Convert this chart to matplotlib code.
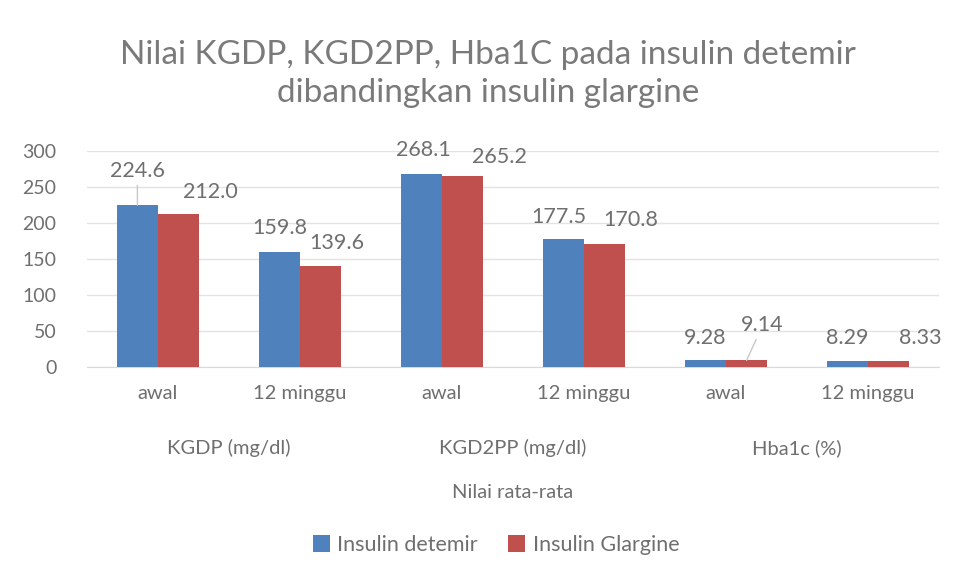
# Grouped bar chart: KGDP, KGD2PP, Hba1C - insulin detemir vs glargine
import matplotlib.pyplot as plt
import numpy as np

plt.rcParams['font.family'] = ['Lato', 'DejaVu Sans']

# Data
categories = ['awal', '12 minggu', 'awal', '12 minggu', 'awal', '12 minggu']
groups = ['KGDP (mg/dl)', 'KGD2PP (mg/dl)', 'Hba1c (%)']
detemir = [224.6, 159.8, 268.1, 177.5, 9.28, 8.29]
glargine = [212.0, 139.6, 265.2, 170.8, 9.14, 8.33]
detemir_labels = ['224.6', '159.8', '268.1', '177.5', '9.28', '8.29']
glargine_labels = ['212.0', '139.6', '265.2', '170.8', '9.14', '8.33']

blue = '#4F81BD'
red = '#C0504D'
txt = '#6f6f6f'

fig = plt.figure(figsize=(9.56, 5.79), dpi=100)
ax = fig.add_axes([87 / 956, 1 - 367 / 579, 852 / 956, 216 / 579])

x = np.arange(len(categories))
w = 0.29
b1 = ax.bar(x - w / 2, detemir, w, color=blue, label='Insulin detemir', zorder=3)
b2 = ax.bar(x + w / 2, glargine, w, color=red, label='Insulin Glargine', zorder=3)

ax.set_xlim(-0.5, 5.5)
ax.set_ylim(0, 300)
ax.set_yticks(range(0, 301, 50))
ax.yaxis.grid(True, color='#e3e3e3', lw=1, zorder=0)
for s in ['top', 'right', 'left']:
    ax.spines[s].set_visible(False)
ax.spines['bottom'].set_color('#d9d9d9')
ax.tick_params(axis='y', length=0, labelsize=14, labelcolor=txt, pad=22)
ax.tick_params(axis='x', length=0, labelsize=14.5, labelcolor=txt, pad=13)
ax.set_xticks(x)
ax.set_xticklabels(categories)

# data labels (pixel offsets from bar tops)
off1 = [(0, 34), (0, 24), (2, 24), (-5, 22), (0, 22), (0, 23)]
off2 = [(32, 22), (16, 23), (37, 19), (26, 24), (16, 35), (32, 23)]
leader1 = [True, False, False, False, False, False]
leader2 = [False, False, False, False, True, False]

for bars, labels, offs, leads in [(b1, detemir_labels, off1, leader1),
                                  (b2, glargine_labels, off2, leader2)]:
    for bar, lab, (dx, dy), lead in zip(bars, labels, offs, leads):
        xc = bar.get_x() + bar.get_width() / 2
        h = bar.get_height()
        ap = None
        if lead:
            ap = dict(arrowstyle='-', color='#c8c8c8', lw=1, shrinkA=1, shrinkB=0)
        ax.annotate(lab, xy=(xc, h), xytext=(dx, dy), textcoords='offset pixels',
                    ha='center', va='center', fontsize=15.5, color=txt,
                    arrowprops=ap, zorder=4)

# group labels
for i, g in enumerate(groups):
    ax.text(2 * i + 0.5, -(448 - 367) / 216, g, transform=ax.get_xaxis_transform(),
            ha='center', va='center', fontsize=14.5, color=txt)

fig.text(0.5 * (87 + 939) / 956, 1 - 493 / 579, 'Nilai rata-rata',
         ha='center', va='center', fontsize=14.5, color=txt)

fig.text(488 / 956, 1 - 74 / 579,
         'Nilai KGDP, KGD2PP, Hba1C pada insulin detemir\ndibandingkan insulin glargine',
         ha='center', va='center', fontsize=24, color='#7a7a7a', linespacing=1.32)

fig.legend(handles=[b1, b2], loc='center', bbox_to_anchor=(496 / 956, 1 - 545 / 579),
           ncol=2, frameon=False, fontsize=15.5, labelcolor=txt,
           handlelength=0.8, handleheight=0.8, columnspacing=1.4, handletextpad=0.35)

plt.savefig('out.png', dpi=100)
